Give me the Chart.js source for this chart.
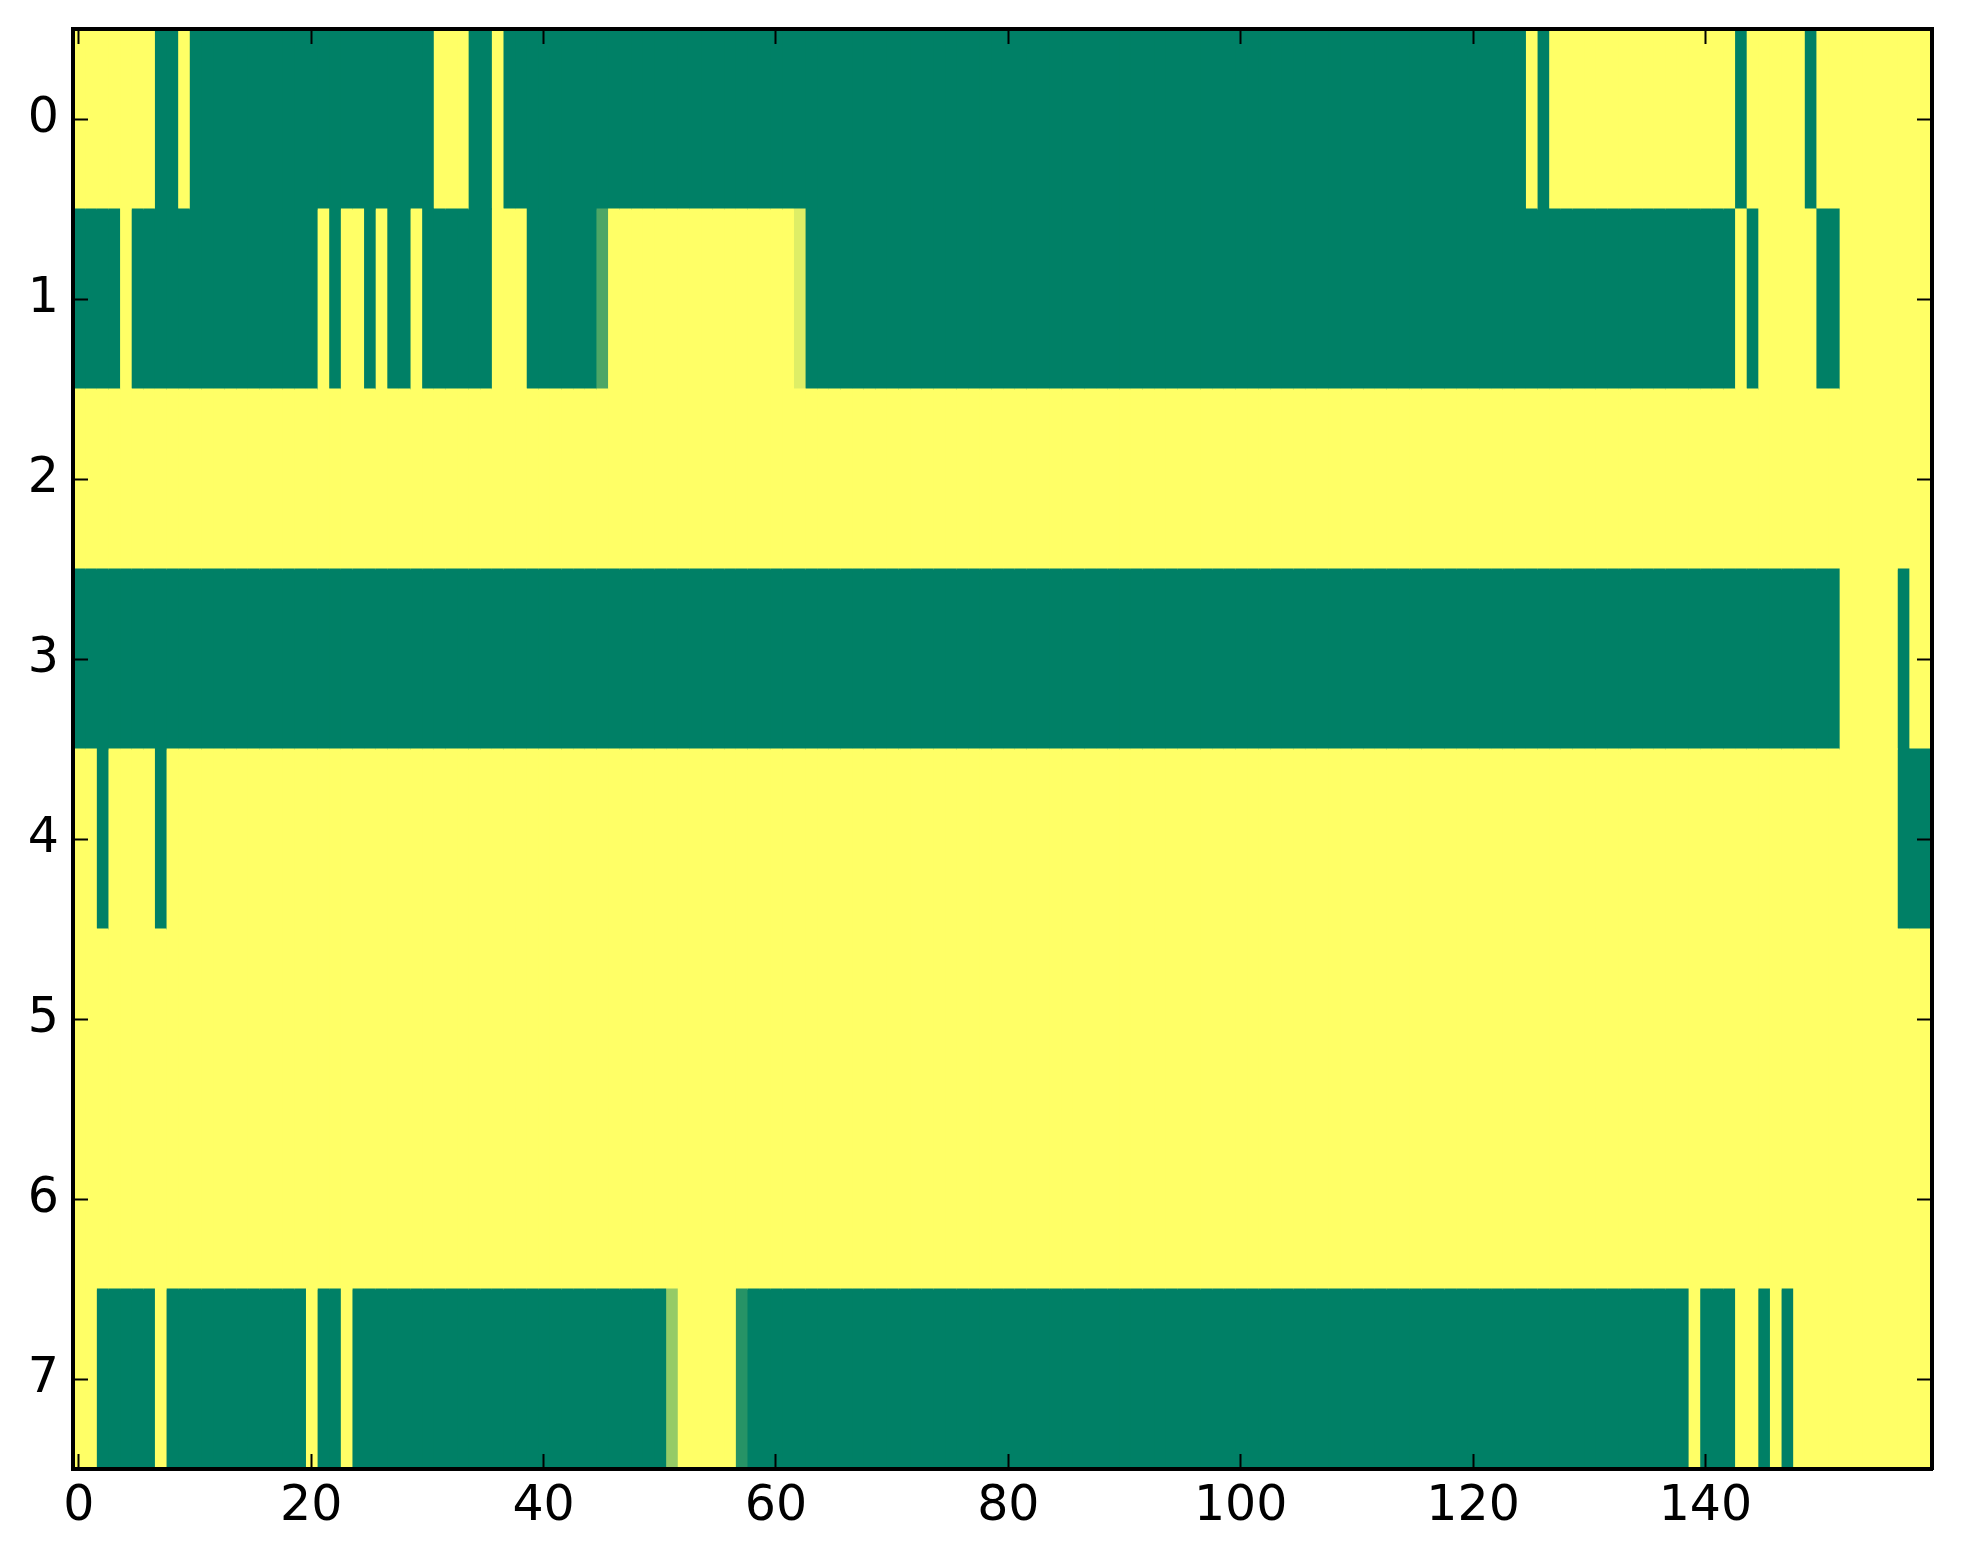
<!DOCTYPE html>
<html>
<head>
<meta charset="utf-8">
<title>Heatmap</title>
<script src="https://cdn.jsdelivr.net/npm/chart.js@4.4.0/dist/chart.umd.min.js"></script>
<style>
  html, body { margin: 0; padding: 0; background: #fff; }
  canvas { display: block; }
</style>
</head>
<body>
<canvas id="heatmap" width="1963" height="1564"></canvas>
<script>
// row labels (top to bottom) and x tick labels
const rowLabels = ['0', '1', '2', '3', '4', '5', '6', '7'];
const xTickValues = [0, 20, 40, 60, 80, 100, 120, 140];

// one array per row, 160 cells each (1 = yellow, 0 = green)
const row0 = [
  1,1,1,1,1,1,1,0,0,1, 0,0,0,0,0,0,0,0,0,0,
  0,0,0,0,0,0,0,0,0,0, 0,1,1,1,0,0,1,0,0,0,
  0,0,0,0,0,0,0,0,0,0, 0,0,0,0,0,0,0,0,0,0,
  0,0,0,0,0,0,0,0,0,0, 0,0,0,0,0,0,0,0,0,0,
  0,0,0,0,0,0,0,0,0,0, 0,0,0,0,0,0,0,0,0,0,
  0,0,0,0,0,0,0,0,0,0, 0,0,0,0,0,0,0,0,0,0,
  0,0,0,0,0,1,0,1,1,1, 1,1,1,1,1,1,1,1,1,1,
  1,1,1,0,1,1,1,1,1,0, 1,1,1,1,1,1,1,1,1,1
];
const row1 = [
  0,0,0,0,1,0,0,0,0,0, 0,0,0,0,0,0,0,0,0,0,
  0,1,0,1,1,0,1,0,0,1, 0,0,0,0,0,0,1,1,1,0,
  0,0,0,0,0,0.3,1,1,1,1, 1,1,1,1,1,1,1,1,1,1,
  1,1,0.87,0,0,0,0,0,0,0, 0,0,0,0,0,0,0,0,0,0,
  0,0,0,0,0,0,0,0,0,0, 0,0,0,0,0,0,0,0,0,0,
  0,0,0,0,0,0,0,0,0,0, 0,0,0,0,0,0,0,0,0,0,
  0,0,0,0,0,0,0,0,0,0, 0,0,0,0,0,0,0,0,0,0,
  0,0,0,1,0,1,1,1,1,1, 0,0,1,1,1,1,1,1,1,1
];
const row2 = [
  1,1,1,1,1,1,1,1,1,1, 1,1,1,1,1,1,1,1,1,1,
  1,1,1,1,1,1,1,1,1,1, 1,1,1,1,1,1,1,1,1,1,
  1,1,1,1,1,1,1,1,1,1, 1,1,1,1,1,1,1,1,1,1,
  1,1,1,1,1,1,1,1,1,1, 1,1,1,1,1,1,1,1,1,1,
  1,1,1,1,1,1,1,1,1,1, 1,1,1,1,1,1,1,1,1,1,
  1,1,1,1,1,1,1,1,1,1, 1,1,1,1,1,1,1,1,1,1,
  1,1,1,1,1,1,1,1,1,1, 1,1,1,1,1,1,1,1,1,1,
  1,1,1,1,1,1,1,1,1,1, 1,1,1,1,1,1,1,1,1,1
];
const row3 = [
  0,0,0,0,0,0,0,0,0,0, 0,0,0,0,0,0,0,0,0,0,
  0,0,0,0,0,0,0,0,0,0, 0,0,0,0,0,0,0,0,0,0,
  0,0,0,0,0,0,0,0,0,0, 0,0,0,0,0,0,0,0,0,0,
  0,0,0,0,0,0,0,0,0,0, 0,0,0,0,0,0,0,0,0,0,
  0,0,0,0,0,0,0,0,0,0, 0,0,0,0,0,0,0,0,0,0,
  0,0,0,0,0,0,0,0,0,0, 0,0,0,0,0,0,0,0,0,0,
  0,0,0,0,0,0,0,0,0,0, 0,0,0,0,0,0,0,0,0,0,
  0,0,0,0,0,0,0,0,0,0, 0,0,1,1,1,1,1,0,1,1
];
const row4 = [
  1,1,0,1,1,1,1,0,1,1, 1,1,1,1,1,1,1,1,1,1,
  1,1,1,1,1,1,1,1,1,1, 1,1,1,1,1,1,1,1,1,1,
  1,1,1,1,1,1,1,1,1,1, 1,1,1,1,1,1,1,1,1,1,
  1,1,1,1,1,1,1,1,1,1, 1,1,1,1,1,1,1,1,1,1,
  1,1,1,1,1,1,1,1,1,1, 1,1,1,1,1,1,1,1,1,1,
  1,1,1,1,1,1,1,1,1,1, 1,1,1,1,1,1,1,1,1,1,
  1,1,1,1,1,1,1,1,1,1, 1,1,1,1,1,1,1,1,1,1,
  1,1,1,1,1,1,1,1,1,1, 1,1,1,1,1,1,1,0,0,0
];
const row5 = [
  1,1,1,1,1,1,1,1,1,1, 1,1,1,1,1,1,1,1,1,1,
  1,1,1,1,1,1,1,1,1,1, 1,1,1,1,1,1,1,1,1,1,
  1,1,1,1,1,1,1,1,1,1, 1,1,1,1,1,1,1,1,1,1,
  1,1,1,1,1,1,1,1,1,1, 1,1,1,1,1,1,1,1,1,1,
  1,1,1,1,1,1,1,1,1,1, 1,1,1,1,1,1,1,1,1,1,
  1,1,1,1,1,1,1,1,1,1, 1,1,1,1,1,1,1,1,1,1,
  1,1,1,1,1,1,1,1,1,1, 1,1,1,1,1,1,1,1,1,1,
  1,1,1,1,1,1,1,1,1,1, 1,1,1,1,1,1,1,1,1,1
];
const row6 = [
  1,1,1,1,1,1,1,1,1,1, 1,1,1,1,1,1,1,1,1,1,
  1,1,1,1,1,1,1,1,1,1, 1,1,1,1,1,1,1,1,1,1,
  1,1,1,1,1,1,1,1,1,1, 1,1,1,1,1,1,1,1,1,1,
  1,1,1,1,1,1,1,1,1,1, 1,1,1,1,1,1,1,1,1,1,
  1,1,1,1,1,1,1,1,1,1, 1,1,1,1,1,1,1,1,1,1,
  1,1,1,1,1,1,1,1,1,1, 1,1,1,1,1,1,1,1,1,1,
  1,1,1,1,1,1,1,1,1,1, 1,1,1,1,1,1,1,1,1,1,
  1,1,1,1,1,1,1,1,1,1, 1,1,1,1,1,1,1,1,1,1
];
const row7 = [
  1,1,0,0,0,0,0,1,0,0, 0,0,0,0,0,0,0,0,0,0,
  1,0,0,1,0,0,0,0,0,0, 0,0,0,0,0,0,0,0,0,0,
  0,0,0,0,0,0,0,0,0,0, 0,0.59,1,1,1,1,1,0.15,0,0,
  0,0,0,0,0,0,0,0,0,0, 0,0,0,0,0,0,0,0,0,0,
  0,0,0,0,0,0,0,0,0,0, 0,0,0,0,0,0,0,0,0,0,
  0,0,0,0,0,0,0,0,0,0, 0,0,0,0,0,0,0,0,0,0,
  0,0,0,0,0,0,0,0,0,0, 0,0,0,0,0,0,0,0,0,1,
  0,0,0,1,1,0,1,0,1,1, 1,1,1,1,1,1,1,1,1,1
];
const heatRows = [row0, row1, row2, row3, row4, row5, row6, row7];

// matplotlib 'summer' colormap
function summer(v) {
  const r = Math.round(255 * v);
  const g = Math.round(255 * (0.5 + 0.5 * v));
  return `rgb(${r}, ${g}, 102)`;
}

// one floating-bar dataset per column, one bar per row
const nCols = row0.length;
const datasets = [];
for (let c = 0; c < nCols; c++) {
  datasets.push({
    data: rowLabels.map(() => [c - 0.5, c + 0.5]),
    backgroundColor: heatRows.map((row) => summer(row[c])),
    borderWidth: 0,
    inflateAmount: 0.6,
    barPercentage: 1,
    categoryPercentage: 1,
    grouped: false,
    xAxisID: 'x',
    yAxisID: 'y',
  });
}

Chart.defaults.font.family = "'DejaVu Sans', sans-serif";
Chart.defaults.color = '#000';

const tickGrid = {
  drawOnChartArea: false,
  drawTicks: true,
  tickLength: -15,
  tickWidth: 2,
  tickColor: '#000',
  color: '#000',
  offset: false,
  z: 1,
};
const frame = { display: true, color: '#000', width: 4, z: 1 };
const labelFont = { size: 49 };
const setXTicks = (scale) => { scale.ticks = xTickValues.map((v) => ({ value: v })); };
const noPad = (scale) => {
  scale.paddingTop = 0;
  scale.paddingBottom = 0;
  scale.paddingLeft = 0;
  scale.paddingRight = 0;
};

const ctx = document.getElementById('heatmap').getContext('2d');
new Chart(ctx, {
  type: 'bar',
  data: { labels: rowLabels, datasets: datasets },
  options: {
    indexAxis: 'y',
    responsive: false,
    devicePixelRatio: 1,
    animation: false,
    layout: { padding: { top: 29, right: 31, left: 0, bottom: 0 } },
    plugins: { legend: { display: false }, tooltip: { enabled: false } },
    scales: {
      x: {
        type: 'linear',
        position: 'bottom',
        min: -0.5,
        max: 159.5,
        afterBuildTicks: setXTicks,
        afterFit: (scale) => { scale.height = 95; noPad(scale); },
        grid: tickGrid,
        border: frame,
        ticks: { padding: 24, font: labelFont, maxRotation: 0, autoSkip: false },
      },
      x2: {
        type: 'linear',
        position: 'top',
        min: -0.5,
        max: 159.5,
        afterBuildTicks: setXTicks,
        afterFit: (scale) => { scale.height = 0; noPad(scale); },
        grid: tickGrid,
        border: frame,
        ticks: { display: false },
      },
      y: {
        type: 'category',
        position: 'left',
        offset: true,
        afterFit: (scale) => { scale.width = 73; noPad(scale); },
        grid: tickGrid,
        border: frame,
        ticks: { padding: 29, font: labelFont },
      },
      y2: {
        type: 'category',
        position: 'right',
        labels: rowLabels,
        offset: true,
        afterFit: (scale) => { scale.width = 0; noPad(scale); },
        grid: tickGrid,
        border: frame,
        ticks: { display: false },
      },
    },
  },
});
</script>
</body>
</html>
